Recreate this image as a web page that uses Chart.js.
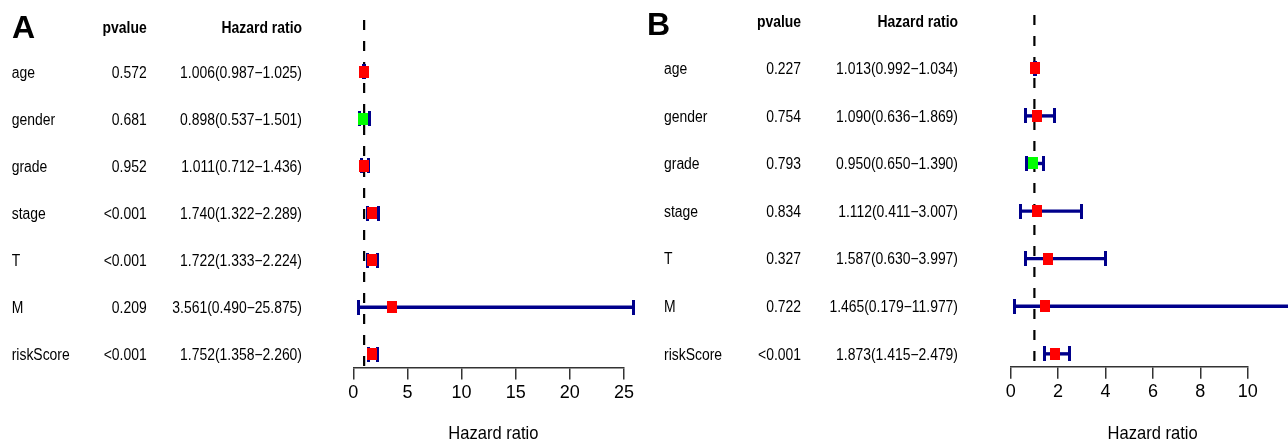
<!DOCTYPE html>
<html><head><meta charset="utf-8">
<script src="https://cdn.jsdelivr.net/npm/chart.js@4.4.1/dist/chart.umd.min.js"></script>
<style>
html,body{margin:0;padding:0;background:#fff;}
#wrap{position:relative;width:1288px;height:441px;overflow:hidden;background:#fff;}
.panel{position:absolute;top:0;width:644px;height:441px;}
#pa{left:0;}
#pb{left:644px;}
</style></head><body>
<div id="wrap">
  <div class="panel" id="pa"><canvas id="ca"></canvas></div>
  <div class="panel" id="pb"><canvas id="cb"></canvas></div>
</div>
<script>
// ---- data ----
const variables = ['age', 'gender', 'grade', 'stage', 'T', 'M', 'riskScore'];

const pvalueA = ['0.572', '0.681', '0.952', '<0.001', '<0.001', '0.209', '<0.001'];
const hrA   = [1.006, 0.898, 1.011, 1.740, 1.722, 3.561, 1.752];
const lowA  = [0.987, 0.537, 0.712, 1.322, 1.333, 0.490, 1.358];
const highA = [1.025, 1.501, 1.436, 2.289, 2.224, 25.875, 2.260];
const ticksA = [0, 5, 10, 15, 20, 25];

const pvalueB = ['0.227', '0.754', '0.793', '0.834', '0.327', '0.722', '<0.001'];
const hrB   = [1.013, 1.090, 0.950, 1.112, 1.587, 1.465, 1.873];
const lowB  = [0.992, 0.636, 0.650, 0.411, 0.630, 0.179, 1.415];
const highB = [1.034, 1.869, 1.390, 3.007, 3.997, 11.977, 2.479];
const ticksB = [0, 2, 4, 6, 8, 10];

// ---- styling helpers ----
const FONT = "'Liberation Sans', Arial, Helvetica, sans-serif";
const NAVY = '#00008B';
const SX = 0.87; // horizontal condensation of the reference text

function box(w, h, color) {
  const c = document.createElement('canvas');
  c.width = w; c.height = h;
  const g = c.getContext('2d');
  g.fillStyle = color; g.fillRect(0, 0, w, h);
  return c;
}
const redBox = box(10, 12, '#FF0000');
const greenBox = box(10, 12, '#00FF00');
const capBar = box(3, 15, NAVY);

function txt(ctx, s, x, y, align, font, sx) {
  ctx.save();
  ctx.font = font;
  ctx.fillStyle = '#000';
  ctx.textAlign = align;
  ctx.textBaseline = 'alphabetic';
  ctx.translate(x, y);
  ctx.scale(sx, 1);
  ctx.fillText(s, 0, 0);
  ctx.restore();
}

const fmt = v => v.toFixed(3);

function makePanel(canvasId, cfg) {
  const {letter, pvals, hr, low, high, ticks, xMax, yMin, yMax, layout, text} = cfg;
  const datasets = [];
  datasets.push({
    label: 'HR', order: 0, clip: false,
    data: hr.map((v, i) => ({x: v, y: i + 1})),
    pointStyle: hr.map(v => v > 1 ? redBox : greenBox),
    pointRadius: 6, showLine: false
  });
  variables.forEach((name, i) => {
    datasets.push({
      label: name + ' CI', order: 1, clip: false, showLine: true,
      data: [{x: low[i], y: i + 1}, {x: high[i], y: i + 1}],
      borderColor: NAVY, borderWidth: 3.4,
      pointStyle: capBar, pointRadius: 30
    });
  });
  datasets.push({
    label: 'ref', order: 2, clip: false, showLine: true,
    data: [{x: 1, y: yMin}, {x: 1, y: yMax}],
    borderColor: '#000', borderWidth: 2.2, borderDash: [10, 11], pointRadius: 0
  });

  const textPlugin = {
    id: 'forestText',
    afterDraw(chart) {
      const ctx = chart.ctx;
      const ys = chart.scales.y, xs = chart.scales.x;
      txt(ctx, letter, text.letterX, text.letterY, 'left', 'bold 32px ' + FONT, 1);
      txt(ctx, 'pvalue', text.pX, text.headY, 'right', 'bold 16px ' + FONT, SX);
      txt(ctx, 'Hazard ratio', text.hrX, text.headY, 'right', 'bold 16px ' + FONT, SX);
      variables.forEach((name, i) => {
        const y = ys.getPixelForValue(i + 1) + 5.8;
        txt(ctx, name, text.labelX, y, 'left', '16px ' + FONT, SX);
        txt(ctx, pvals[i], text.pX, y, 'right', '16px ' + FONT, SX);
        txt(ctx, fmt(hr[i]) + '(' + fmt(low[i]) + '\u2212' + fmt(high[i]) + ')', text.hrX, y, 'right', '16px ' + FONT, SX);
      });
      const cx = xs.getPixelForValue(Math.max(...high) / 2);
      txt(ctx, 'Hazard ratio', cx, text.titleY, 'center', '19px ' + FONT, SX);
    }
  };

  return new Chart(document.getElementById(canvasId), {
    type: 'scatter',
    data: {datasets},
    plugins: [textPlugin],
    options: {
      responsive: true, maintainAspectRatio: false, animation: false,
      layout: {autoPadding: false, padding: {left: layout.left, right: layout.right, top: layout.top, bottom: 0}},
      plugins: {legend: {display: false}, tooltip: {enabled: false}},
      scales: {
        x: {
          type: 'linear', min: 0, max: xMax,
          afterBuildTicks: s => { s.ticks = ticks.map(v => ({value: v})); },
          afterFit: s => { s.height = layout.axisH; },
          border: {display: true, color: '#333', width: 1.5},
          grid: {display: true, drawOnChartArea: false, drawTicks: true, tickLength: 12, color: '#333', lineWidth: 1.5},
          ticks: {color: '#000', font: {family: FONT, size: 18}, padding: 3, maxRotation: 0, autoSkip: false},
          title: {display: false}
        },
        y: {type: 'linear', reverse: true, min: yMin, max: yMax, display: false}
      }
    }
  });
}

makePanel('ca', {
  letter: 'A', pvals: pvalueA, hr: hrA, low: lowA, high: highA,
  ticks: ticksA, xMax: 25, yMin: -0.1, yMax: 7.28,
  layout: {left: 353.3, right: 644 - 624, top: 20, axisH: 441 - 367.5},
  text: {letterX: 12, letterY: 38, headY: 32.5, labelX: 11.7, pX: 146.7, hrX: 302, titleY: 438.5}
});
makePanel('cb', {
  letter: 'B', pvals: pvalueB, hr: hrB, low: lowB, high: highB,
  ticks: ticksB, xMax: 10, yMin: -0.12, yMax: 7.27,
  layout: {left: 1010.7 - 644, right: 1288 - 1247.7, top: 15, axisH: 441 - 366.7},
  text: {letterX: 3, letterY: 35, headY: 26.5, labelX: 20, pX: 157, hrX: 314, titleY: 439}
});
</script>
</body></html>
